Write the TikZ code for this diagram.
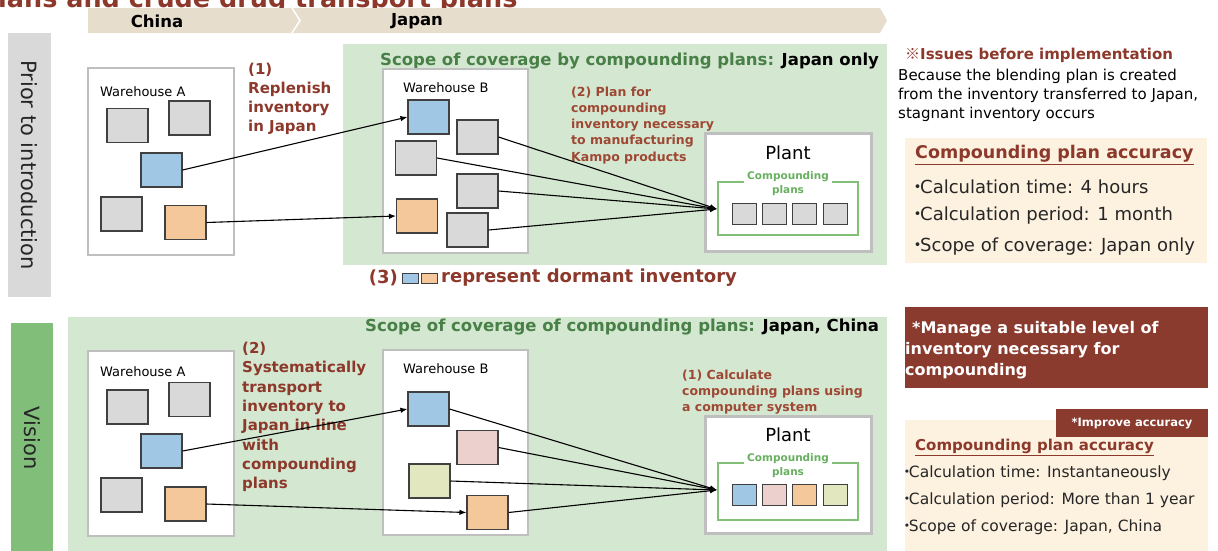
\documentclass[tikz,border=0pt]{standalone}
\usepackage{fontspec}
\setmainfont{DejaVu Sans}
\newfontfamily\cjk{Noto Sans CJK JP}
\usetikzlibrary{arrows.meta}
\definecolor{dred}{RGB}{140,56,42}
\definecolor{lred}{RGB}{158,72,52}
\definecolor{boxred}{RGB}{139,58,46}
\definecolor{band}{RGB}{230,221,205}
\definecolor{lgreen}{RGB}{212,231,208}
\definecolor{vgreen}{RGB}{128,190,122}
\definecolor{tgreen}{RGB}{72,128,72}
\definecolor{bgreen}{RGB}{130,192,120}
\definecolor{cgreen}{RGB}{104,176,96}
\definecolor{lgray}{RGB}{217,217,217}
\definecolor{whgray}{RGB}{191,191,191}
\definecolor{ibeige}{RGB}{253,241,224}
\definecolor{cblue}{RGB}{160,200,228}
\definecolor{corange}{RGB}{244,200,155}
\definecolor{cpink}{RGB}{236,208,205}
\definecolor{cyg}{RGB}{226,231,192}
\newcommand{\fsz}[2]{\fontsize{#1}{#2}\selectfont}
\newcommand{\mdot}{{\cjk\bfseries ･}\hspace{-2pt}}
\begin{document}
\begin{tikzpicture}[x=1pt,y=-1pt,
  inv/.style={draw=black!75, line width=1.1pt, minimum width=41pt, minimum height=34pt, inner sep=0pt, fill=lgray},
  sm/.style={draw=black!75, line width=1pt, minimum width=24pt, minimum height=21pt, inner sep=0pt, fill=lgray},
  leg/.style={draw=black!75, line width=1pt, minimum width=16pt, minimum height=10pt, inner sep=0pt},
  wh/.style={draw=whgray, line width=2.5pt, fill=white, inner sep=0pt},
  panel/.style={inner sep=0pt, outer sep=0pt},
  link/.style={-{Latex[length=7pt,width=5.5pt]}, line width=1.1pt},
  lbl/.style={inner sep=0pt, anchor=north west, align=left, text=dred},
  wlabel/.style={inner sep=0pt, anchor=west, font=\fsz{13}{16}},
  item/.style={inner sep=0pt, anchor=west, text=black!85},
  accttl/.style={inner sep=0pt, anchor=west, text=dred}
]
\useasboundingbox (0,0) rectangle (1218,550);

% title
\node[anchor=base west, inner sep=0pt, font=\bfseries\fsz{25.5}{30}, text=dred] (title) at (-2,7) {lans and crude drug transport plans};

% header band
\fill[band] (88,8) -- (880,8) -- (887,20.5) -- (880,33) -- (88,33) -- cycle;
\draw[white, line width=1.5pt] (292,8) -- (300,20.5) -- (292,33);
\node[font=\bfseries\fsz{16.5}{20}] (china) at (157,21) {China};
\node[font=\bfseries\fsz{16.5}{20}] (japan) at (417,21) {Japan};

% side labels
\node[panel, fill=lgray, minimum width=43pt, minimum height=264pt] (priorbox) at (29.5,165) {};
\node[rotate=-90, font=\fsz{21}{25}, text=black!85] (priortxt) at (29.5,165) {Prior to introduction};
\node[panel, fill=vgreen, minimum width=42pt, minimum height=229pt] (visionbox) at (32,437.5) {};
\node[rotate=-90, font=\fsz{21}{25}, text=black!85] (visiontxt) at (32,438) {Vision};

% green scope panels
\node[panel, fill=lgreen, minimum width=544pt, minimum height=221pt] (scopeT) at (615,154.5) {};
\node[panel, fill=lgreen, minimum width=819pt, minimum height=236pt] (scopeB) at (477.5,435) {};
\node[inner sep=0pt, anchor=west, font=\bfseries\fsz{16.5}{20}] (scopeTt) at (380,61) {\textcolor{tgreen}{Scope of coverage by compounding plans:} Japan only};
\node[inner sep=0pt, anchor=west, font=\bfseries\fsz{16.5}{20}] (scopeBt) at (365,327.5) {\textcolor{tgreen}{Scope of coverage of compounding plans:} Japan, China};

% ===== TOP (prior) =====
\node[wh, minimum width=146pt, minimum height=187pt] (whAT) at (161,161.5) {};
\node[wlabel] (whAlT) at (100,92) {Warehouse A};
\node[inv] (gA1T) at (127.5,125.5) {};
\node[inv] (gA2T) at (189.5,118) {};
\node[inv, fill=cblue] (bAT) at (161.5,170) {};
\node[inv] (gA3T) at (121.5,214) {};
\node[inv, fill=corange] (oAT) at (185.5,222.5) {};

\node[wh, minimum width=145pt, minimum height=184pt] (whBT) at (455.5,161) {};
\node[wlabel] (whBlT) at (403,88) {Warehouse B};
\node[inv, fill=cblue] (bBT) at (428.5,117) {};
\node[inv] (gBaT) at (477.5,137) {};
\node[inv] (gBbT) at (416,158) {};
\node[inv] (gBcT) at (477.5,191) {};
\node[inv, fill=corange] (oBT) at (417,216) {};
\node[inv] (gBdT) at (467.5,230) {};

\node[wh, line width=3pt, minimum width=166pt, minimum height=118pt] (plantT) at (788,192) {};
\node[font=\fsz{18}{22}] (plantTt) at (788,153) {Plant};
\node[draw=bgreen, line width=2pt, minimum width=140pt, minimum height=53pt, inner sep=0pt] (brT) at (788,208.5) {};
\node[fill=white, inner xsep=3pt, inner ysep=0pt, font=\bfseries\fsz{10.5}{14}, text=cgreen, align=center] (cpT) at (788,184) {Compounding\\plans};
\node[sm] (p1T) at (744,213.8) {};
\node[sm] (p2T) at (774,213.8) {};
\node[sm] (p3T) at (804,213.8) {};
\node[sm] (p4T) at (835.8,213.8) {};
\coordinate (tgtT) at (717,209);

\node[lbl, font=\bfseries\fsz{15}{19}] (lab1T) at (248,63) {(1)\\Replenish\\inventory\\in Japan};
\node[lbl, text=lred, font=\bfseries\fsz{12.5}{16.2}] (lab2T) at (571,86.5) {(2) Plan for\\compounding\\inventory necessary\\to manufacturing\\Kampo products};

\draw[link] (bAT.east) -- (bBT.west);
\draw[link] (oAT.east) -- (oBT.west);
\draw[link] (gBaT.east) -- (tgtT);
\draw[link] (gBbT.east) -- (tgtT);
\draw[link] (gBcT.east) -- (tgtT);
\draw[link] (gBdT.east) -- (tgtT);

% legend (3)
\node[inner sep=0pt, anchor=east, font=\bfseries\fsz{18}{22}, text=dred] (leg3) at (398,278) {(3)};
\node[leg, fill=cblue] (legB) at (410.5,278) {};
\node[leg, fill=corange] (legO) at (429,278) {};
\node[inner sep=0pt, anchor=west, font=\bfseries\fsz{18}{22}, text=dred] (legT) at (441,278) {represent dormant inventory};

% ===== BOTTOM (vision) =====
\node[wh, minimum width=146pt, minimum height=185pt] (whAB) at (161,443.5) {};
\node[wlabel] (whAlB) at (100,372) {Warehouse A};
\node[inv] (gA1B) at (127.5,407) {};
\node[inv] (gA2B) at (189.5,399.5) {};
\node[inv, fill=cblue] (bAB) at (161.5,451) {};
\node[inv] (gA3B) at (121.5,495) {};
\node[inv, fill=corange] (oAB) at (185.5,504) {};

\node[wh, minimum width=145pt, minimum height=185pt] (whBB) at (455.5,442.5) {};
\node[wlabel] (whBlB) at (403,369) {Warehouse B};
\node[inv, fill=cblue] (bBB) at (428.5,409) {};
\node[inv, fill=cpink] (pBB) at (477.5,447.5) {};
\node[inv, fill=cyg] (yBB) at (429.5,481) {};
\node[inv, fill=corange] (oBB) at (487.5,512.5) {};

\node[wh, line width=3pt, minimum width=166pt, minimum height=117pt] (plantB) at (788,474.5) {};
\node[font=\fsz{18}{22}] (plantBt) at (788,435) {Plant};
\node[draw=bgreen, line width=2pt, minimum width=140pt, minimum height=57pt, inner sep=0pt] (brB) at (788,491.5) {};
\node[fill=white, inner xsep=3pt, inner ysep=0pt, font=\bfseries\fsz{10.5}{14}, text=cgreen, align=center] (cpB) at (788,466) {Compounding\\plans};
\node[sm, fill=cblue] (p1B) at (744,495) {};
\node[sm, fill=cpink] (p2B) at (774,495) {};
\node[sm, fill=corange] (p3B) at (804,495) {};
\node[sm, fill=cyg] (p4B) at (835.8,495) {};
\coordinate (tgtB) at (717,490);

\node[lbl, font=\bfseries\fsz{15}{19.3}] (lab2B) at (242,342) {(2)\\Systematically\\transport\\inventory to\\Japan in line\\with\\compounding\\plans};
\node[lbl, text=lred, font=\bfseries\fsz{12.5}{16}] (lab1B) at (682,369.5) {(1) Calculate\\compounding plans using\\a computer system};

\draw[link] (bAB.east) -- (bBB.west);
\draw[link] (oAB.east) -- (oBB.west);
\draw[link] (bBB.east) -- (tgtB);
\draw[link] (pBB.east) -- (tgtB);
\draw[link] (yBB.east) -- (tgtB);
\draw[link] (oBB.east) -- (tgtB);

% ===== RIGHT COLUMN =====
\node[inner sep=0pt, anchor=west, font=\bfseries\fsz{15}{18}, text=dred] (issues) at (905,55) {{\cjk ※}Issues before implementation};
\node[inner sep=0pt, anchor=north west, align=left, font=\fsz{15}{19}] (because) at (898,69) {Because the blending plan is created\\from the inventory transferred to Japan,\\stagnant inventory occurs};

\node[panel, fill=ibeige, minimum width=302pt, minimum height=125pt] (accT) at (1056,200.5) {};
\node[accttl, font=\bfseries\fsz{17.5}{21}] (accTt) at (915,155) {\underline{Compounding plan accuracy}};
\node[item, font=\fsz{18}{22}] (iT1) at (913,187) {\mdot Calculation time: 4 hours};
\node[item, font=\fsz{18}{22}] (iT2) at (913,216) {\mdot Calculation period: 1 month};
\node[item, font=\fsz{18}{22}] (iT3) at (913,247) {\mdot Scope of coverage: Japan only};

\node[panel, fill=boxred, minimum width=303pt, minimum height=81pt] (manageBox) at (1056.5,347.5) {};
\node[inner sep=0pt, anchor=north west, align=left, text=white, font=\bfseries\fsz{16}{21}] (manage) at (905,321.5) {\hspace*{7pt}*Manage a suitable level of\\inventory necessary for\\compounding};

\node[panel, fill=ibeige, minimum width=303pt, minimum height=132pt] (accB) at (1056.5,486) {};
\node[panel, fill=boxred, minimum width=152pt, minimum height=28pt, text=white, font=\bfseries\fsz{11.5}{14}] (tab) at (1132,423) {*Improve accuracy};
\node[accttl, font=\bfseries\fsz{15}{18}] (accBt) at (915,447) {\underline{Compounding plan accuracy}};
\node[item, font=\fsz{15.5}{19}] (iB1) at (903,473) {\mdot Calculation time: Instantaneously};
\node[item, font=\fsz{15.5}{19}] (iB2) at (903,500) {\mdot Calculation period: More than 1 year};
\node[item, font=\fsz{15.5}{19}] (iB3) at (903,527) {\mdot Scope of coverage: Japan, China};
\end{tikzpicture}
\end{document}
